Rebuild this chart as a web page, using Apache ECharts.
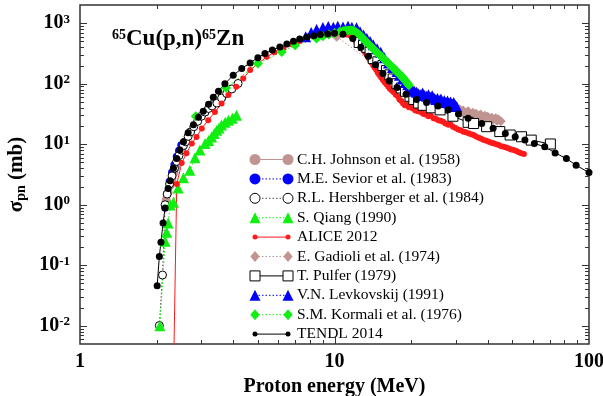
<!DOCTYPE html>
<html>
<head>
<meta charset="utf-8">
<script src="https://cdn.jsdelivr.net/npm/echarts@6/dist/echarts.min.js"></script>
<style>
html, body { margin: 0; padding: 0; background: #fff; }
#chart { width: 603px; height: 396px; }
</style>
</head>
<body>
<div id="chart"></div>
<script>
const FONT = '"Liberation Serif", "Times New Roman", serif';

// Proton energy (MeV) / cross section (mb) pairs for each data set
const johnson1958 = [[2.18,1.2],[2.22,1.6],[2.26,2.1],[2.30,2.7],[2.34,3.4],[2.38,4.2]];
const sevior1983 = [[2.16,0.9],[2.20,1.5],[2.25,2.4],[2.30,3.4],[2.35,4.6],[2.40,6.2],[2.45,7.8],[2.50,9.6]];
const hershberger1984 = [[2.05,0.0101],[2.11,0.069],[2.16,1.0],[2.20,1.5],[2.25,2.2],[2.30,3.0],[2.35,4.0],[2.40,5.2],[2.45,6.5],[2.50,8.0],[2.55,9.5],[2.60,11],[2.66,13.5],[2.72,16],[2.80,19.5],[2.90,24],[3.00,29],[3.10,34],[3.20,39],[3.30,43],[3.45,48],[3.60,58],[3.77,69],[3.95,82],[4.18,101]];
const qiang1990 = [[2.06,0.010],[2.16,0.25],[2.19,0.35],[2.22,0.5],[2.26,0.99],[2.33,1.1],[2.43,1.9],[2.55,2.8],[2.70,3.7],[2.83,6.0],[2.96,8.0],[3.10,10.3],[3.20,11.5],[3.29,13.2],[3.37,15],[3.45,17],[3.52,18.5],[3.60,20.7],[3.72,23],[3.83,25],[3.97,27],[4.12,30]];
const alice2012 = [[2.32,0.0005],[2.40,2.2],[2.51,4.9],[2.62,7.1],[2.75,10.3],[2.87,13.2],[3.01,18.2],[3.19,25],[3.39,34],[3.60,47],[3.83,65],[4.11,89],[4.38,122],[4.66,168],[5.02,216],[5.41,278],[5.80,330],[6.30,390],[6.80,450],[7.30,510],[7.80,560],[8.40,600],[9.00,630],[9.60,650],[10.2,660],[10.8,660],[11.2,650],[11.5,630],[11.7,600],[11.9,560],[12.05,525],[12.2,490],[12.4,455],[12.6,420],[12.8,388],[13.0,358],[13.2,328],[13.4,300],[13.6,270],[13.8,245],[14.0,222],[14.2,200],[14.4,183],[14.6,168],[14.8,152],[15.0,140],[15.25,127],[15.5,115],[15.75,106],[16.0,98],[16.25,90],[16.5,83],[16.8,77],[17.1,72],[17.4,66],[17.8,61],[18.0,55],[18.3,52],[18.6,47],[18.9,44],[19.2,45],[19.6,41],[19.9,42],[20.3,39],[20.8,36],[21.3,35],[21.8,34],[22.3,32],[22.8,31],[23.4,29],[23.9,29.5],[24.5,27],[25.0,26.5],[25.6,25],[26.1,24.5],[26.7,23.5],[27.3,22],[28.0,21],[28.6,21.2],[29.2,19.4],[29.9,18.6],[30.6,17.6],[31.3,17.0],[32.1,16.1],[32.8,15.8],[33.6,15.2],[34.4,14.6],[35.2,14.2],[36.0,13.4],[36.9,12.8],[37.7,12.3],[38.6,11.7],[39.5,11.4],[40.4,11.0],[41.3,10.6],[42.2,10.4],[43.2,10.0],[44.2,9.7],[45.2,9.3],[46.2,9.1],[47.3,8.8],[48.4,8.5],[49.5,8.2],[50.6,8.0],[51.8,7.7],[53.0,7.4],[54.2,7.1],[55.5,6.9]];
const gadioli1974 = [[10.2,600],[20.0,75],[20.5,68],[21.0,72],[21.5,64],[22.0,67],[22.5,60],[23.0,62],[23.5,56],[24.0,58],[24.5,52],[25.0,54],[25.5,49],[26.0,50],[26.5,45],[27.0,47],[27.5,42],[28.0,44],[28.5,40],[29.0,42],[29.5,38],[30.0,40],[30.5,36],[31.0,38],[31.5,34],[32.0,36],[33.0,33],[33.5,35],[34.0,32],[35.0,33],[35.5,30],[36.0,32],[37.0,29],[37.5,31],[38.0,28],[39.0,29.5],[39.5,27],[40.0,28.5],[41.0,26],[41.5,27.5],[42.0,25.5],[43.0,27],[43.5,24.5],[44.0,26],[45.0,24]];
const pulfer1979 = [[12.5,480],[13.0,430],[13.4,400],[13.8,330],[14.2,260],[14.8,230],[15.5,200],[16.0,165],[16.5,140],[17.0,120],[17.6,100],[18.3,85],[19.0,75],[19.8,62],[20.5,55],[21.4,48],[22.3,44],[24.0,40],[26.0,37],[29.2,29],[33.5,23],[35.2,22],[39.6,19.5],[44.6,16.2],[49.0,14.2],[54.3,13.3],[59.3,11.7],[70.5,10.1]];
const levkovskij1991 = [[7.7,600],[8.1,700],[8.5,790],[9.0,850],[9.45,880],[9.9,860],[10.3,890],[10.8,870],[11.3,890],[11.7,860],[12.2,840],[12.6,720],[13.0,640],[13.4,560],[13.8,500],[14.2,440],[14.7,380],[15.2,330],[15.7,270],[16.3,220],[16.9,185],[17.6,160],[18.0,138],[18.5,120],[19.0,105],[19.4,96],[19.8,89],[20.2,80],[20.6,75],[21.0,72],[21.4,68],[21.8,66],[22.2,70],[22.6,64],[23.0,62],[23.4,66],[23.8,60],[24.2,63],[24.6,58],[25.0,55],[25.4,57],[25.8,53],[26.2,56],[26.6,50],[27.0,53],[27.4,49],[27.8,52],[28.2,48],[28.6,50],[29.0,46],[29.4,49],[29.8,44],[30.2,42]];
const kormali1976 = [[2.85,29],[3.75,85],[5.0,216],[6.2,336],[7.0,433],[8.5,560],[9.0,610],[9.5,650],[10.0,690],[10.5,730],[10.8,745],[11.0,750],[11.2,758],[11.4,762],[11.6,765],[11.8,760],[12.0,740],[12.2,705],[12.4,670],[12.6,630],[12.8,590],[13.0,550],[13.2,515],[13.4,480],[13.6,450],[13.8,425],[14.0,400],[14.2,378],[14.4,356],[14.6,336],[14.8,318],[15.0,300],[15.2,286],[15.4,272],[15.6,258],[15.8,244],[16.0,232],[16.2,222],[16.4,211],[16.6,201],[16.8,192],[17.0,184],[17.2,175],[17.4,166],[17.6,158],[17.8,151],[18.0,145],[18.2,138],[18.4,131],[18.6,125],[18.8,118],[19.0,112],[19.2,106],[19.4,100],[19.6,94]];
const tendl2014 = [[2.01,0.046],[2.05,0.14],[2.08,0.24],[2.12,0.50],[2.16,0.88],[2.22,1.85],[2.26,2.5],[2.33,4.0],[2.40,5.8],[2.47,8.0],[2.55,11],[2.66,15.5],[2.79,21],[2.92,28],[3.05,35],[3.20,46],[3.34,60],[3.50,75],[3.71,100],[4.00,138],[4.32,178],[4.66,220],[5.00,270],[5.33,316],[5.70,360],[6.10,406],[6.50,455],[6.90,505],[7.30,550],[7.80,590],[8.30,620],[8.80,648],[9.40,665],[10.0,680],[10.8,660],[11.8,560],[12.7,400],[13.6,285],[14.5,205],[15.5,148],[16.4,112],[17.6,87],[19.1,67],[21.0,55],[23.0,49],[25.5,43],[28.0,37],[30.7,31.5],[33.5,27],[37.9,22],[42.0,18.3],[46.9,15.1],[51.3,13.3],[56.0,11.7],[61.0,10.3],[67.0,9.1],[73.6,7.2],[81.5,5.8],[89.0,4.5],[100,3.4]];

// Axis ranges and tick values
const xRange = [1, 100];
const yRange = [0.005, 2000];
const xMajorTicks = [10];
const xDecades = [1, 10];
const yMajorTicks = [0.01, 0.1, 1, 10, 100, 1000];
const yDecades = [0.001, 0.01, 0.1, 1, 10, 100, 1000];
const minorMultiples = [2, 3, 4, 5, 6, 7, 8, 9];

const BROWN = '#c09591';
const BLUE = '#0000ff';
const GREEN = '#11ee11';
const RED = '#ff1a1a';

// Drawing styles for each data set (shared by the plot and the key)
const sets = [
  { name: 'C.H. Johnson et al. (1958)', data: johnson1958, sym: 'circle', size: 9, legSize: 11, fill: BROWN, stroke: BROWN, line: BROWN, dash: false },
  { name: 'M.E. Sevior et al. (1983)', data: sevior1983, sym: 'circle', size: 8, legSize: 11, fill: BLUE, stroke: BLUE, line: BLUE, dash: true },
  { name: 'R.L. Hershberger et al. (1984)', data: hershberger1984, sym: 'circle', size: 8, legSize: 10, fill: '#fff', stroke: '#000', line: '#444', dash: true },
  { name: 'S. Qiang (1990)', data: qiang1990, sym: 'triangle', size: 11, legSize: 11, fill: GREEN, stroke: GREEN, line: GREEN, dash: true },
  { name: 'ALICE 2012', data: alice2012, sym: 'circle', size: 6, legSize: 5, fill: RED, stroke: RED, line: RED, dash: false },
  { name: 'E. Gadioli et al. (1974)', data: gadioli1974, sym: 'diamond', size: 10, legSize: 11, fill: BROWN, stroke: BROWN, line: BROWN, dash: true },
  { name: 'T. Pulfer (1979)', data: pulfer1979, sym: 'rect', size: 10, legSize: 10, fill: '#fff', stroke: '#000', line: '#000', dash: false },
  { name: 'V.N. Levkovskij (1991)', data: levkovskij1991, sym: 'triangle', size: 11, legSize: 11, fill: BLUE, stroke: BLUE, line: BLUE, dash: true },
  { name: 'S.M. Kormali et al. (1976)', data: kormali1976, sym: 'diamond', size: 10, legSize: 11, fill: GREEN, stroke: GREEN, line: GREEN, dash: true },
  { name: 'TENDL 2014', data: tendl2014, sym: 'circle', size: 7, legSize: 5, fill: '#000', stroke: '#000', line: '#000', dash: false }
];

const lineSeries = sets.map(s => ({
  type: 'line',
  name: s.name,
  data: s.data,
  symbol: s.sym,
  symbolSize: s.size,
  showAllSymbol: true,
  clip: true,
  animation: false,
  itemStyle: { color: s.fill, borderColor: s.stroke, borderWidth: s.fill === '#fff' ? 1 : 0 },
  lineStyle: { color: s.line, width: 1, type: s.dash ? [1.5, 2] : 'solid' },
  emphasis: { disabled: true }
}));

// Tick marks on all four sides of the frame (major + 2..9 minor)
const tickData = [];
xDecades.forEach(d => minorMultiples.forEach(m => tickData.push([d * m, 1, 0, 0])));
xMajorTicks.forEach(v => tickData.push([v, 1, 0, 1]));
yDecades.forEach(d => minorMultiples.forEach(m => {
  const v = d * m;
  if (v > yRange[0] && v < yRange[1]) tickData.push([1, v, 1, 0]);
}));
yMajorTicks.forEach(v => tickData.push([1, v, 1, 1]));

const TICK = '#333';
const tickSeries = {
  type: 'custom',
  data: tickData,
  silent: true,
  animation: false,
  z: 10,
  renderItem(params, api) {
    const cs = params.coordSys;
    const len = api.value(3) ? 7 : 4;
    const st = { stroke: TICK, lineWidth: 1 };
    if (api.value(2) === 0) {
      const x = Math.round(api.coord([api.value(0), 1])[0]) + 0.5;
      return { type: 'group', children: [
        { type: 'line', shape: { x1: x, y1: cs.y + cs.height, x2: x, y2: cs.y + cs.height - len }, style: st },
        { type: 'line', shape: { x1: x, y1: cs.y, x2: x, y2: cs.y + len }, style: st }
      ]};
    }
    const y = Math.round(api.coord([1, api.value(1)])[1]) + 0.5;
    return { type: 'group', children: [
      { type: 'line', shape: { x1: cs.x, y1: y, x2: cs.x + len, y2: y }, style: st },
      { type: 'line', shape: { x1: cs.x + cs.width, y1: y, x2: cs.x + cs.width - len, y2: y }, style: st }
    ]};
  }
};

// Key drawn as graphic elements: line with a marker at each end
function markerShape(s, cx) {
  const r = s.legSize / 2;
  const style = { fill: s.fill, stroke: s.stroke, lineWidth: s.fill === '#fff' ? 1 : 0 };
  if (s.sym === 'circle') return { type: 'circle', shape: { cx, cy: 0, r }, style };
  if (s.sym === 'rect') return { type: 'rect', shape: { x: cx - r, y: -r, width: 2 * r, height: 2 * r }, style };
  if (s.sym === 'triangle') return { type: 'polygon', shape: { points: [[cx, -r], [cx + r, r], [cx - r, r]] }, style };
  return { type: 'polygon', shape: { points: [[cx, -r], [cx + r * 0.85, 0], [cx, r], [cx - r * 0.85, 0]] }, style };
}
const KEY_X1 = 255, KEY_X2 = 288, KEY_TEXT = 297, KEY_TOP = 159.5, KEY_STEP = 19.4;
const keyGroups = sets.map((s, i) => ({
  type: 'group',
  x: 0,
  y: KEY_TOP + i * KEY_STEP,
  children: [
    { type: 'line', shape: { x1: KEY_X1, y1: 0, x2: KEY_X2, y2: 0 }, style: { stroke: s.line, lineWidth: 1, lineDash: s.dash ? [1.5, 2] : null } },
    markerShape(s, KEY_X1),
    markerShape(s, KEY_X2),
    { type: 'text', x: KEY_TEXT, y: 0, style: { text: s.name, fill: '#000', font: '15.5px ' + FONT, verticalAlign: 'middle' } }
  ]
}));

const isPow10 = v => Math.abs(Math.log10(v) - Math.round(Math.log10(v))) < 1e-6;

const chart = echarts.init(document.getElementById('chart'), null, { renderer: 'canvas' });
chart.setOption({
  animation: false,
  backgroundColor: '#fff',
  grid: { left: 80, right: 14, top: 5, bottom: 52, outerBoundsMode: 'none', containLabel: false, show: true, borderColor: '#333', borderWidth: 1.5, backgroundColor: 'transparent' },
  xAxis: {
    type: 'log', logBase: 10, min: xRange[0], max: xRange[1],
    axisLine: { show: false }, axisTick: { show: false }, splitLine: { show: false }, minorTick: { show: false },
    axisLabel: {
      margin: 8, color: '#000', fontFamily: FONT, fontSize: 20, fontWeight: 'bold',
      formatter: v => isPow10(v) ? String(Math.round(v)) : ''
    },
    name: 'Proton energy (MeV)', nameLocation: 'middle', nameGap: 28,
    nameTextStyle: { color: '#000', fontFamily: FONT, fontSize: 20, fontWeight: 'bold' }
  },
  yAxis: {
    type: 'log', logBase: 10, min: yRange[0], max: yRange[1],
    axisLine: { show: false }, axisTick: { show: false }, splitLine: { show: false }, minorTick: { show: false },
    axisLabel: {
      margin: 10, color: '#000',
      formatter: v => isPow10(v) ? '{b|10}{s|' + Math.round(Math.log10(v)) + '}' : '',
      rich: {
        b: { fontFamily: FONT, fontSize: 20, fontWeight: 'bold', color: '#000' },
        s: { fontFamily: FONT, fontSize: 13, fontWeight: 'bold', color: '#000', verticalAlign: 'top', padding: [0, 0, 8, 0] }
      }
    },
    name: '{a|σ}{sub|pn}{a| (mb)}', nameLocation: 'middle', nameGap: 52, nameRotate: 90,
    nameTextStyle: {
      rich: {
        a: { fontFamily: FONT, fontSize: 21, fontWeight: 'bold', color: '#000' },
        sub: { fontFamily: FONT, fontSize: 14, fontWeight: 'bold', color: '#000', verticalAlign: 'bottom', padding: [8, 0, 0, 0] }
      }
    }
  },
  series: [tickSeries].concat(lineSeries),
  graphic: [
    {
      type: 'text', left: 112, top: 28, z: 20,
      style: {
        text: '{s|65}{b|Cu(p,n)}{s|65}{b|Zn}',
        rich: {
          b: { fontFamily: FONT, fontSize: 23, fontWeight: 'bold', fill: '#000' },
          s: { fontFamily: FONT, fontSize: 14, fontWeight: 'bold', fill: '#000', verticalAlign: 'top' }
        }
      }
    }
  ].concat(keyGroups)
});
</script>
</body>
</html>
